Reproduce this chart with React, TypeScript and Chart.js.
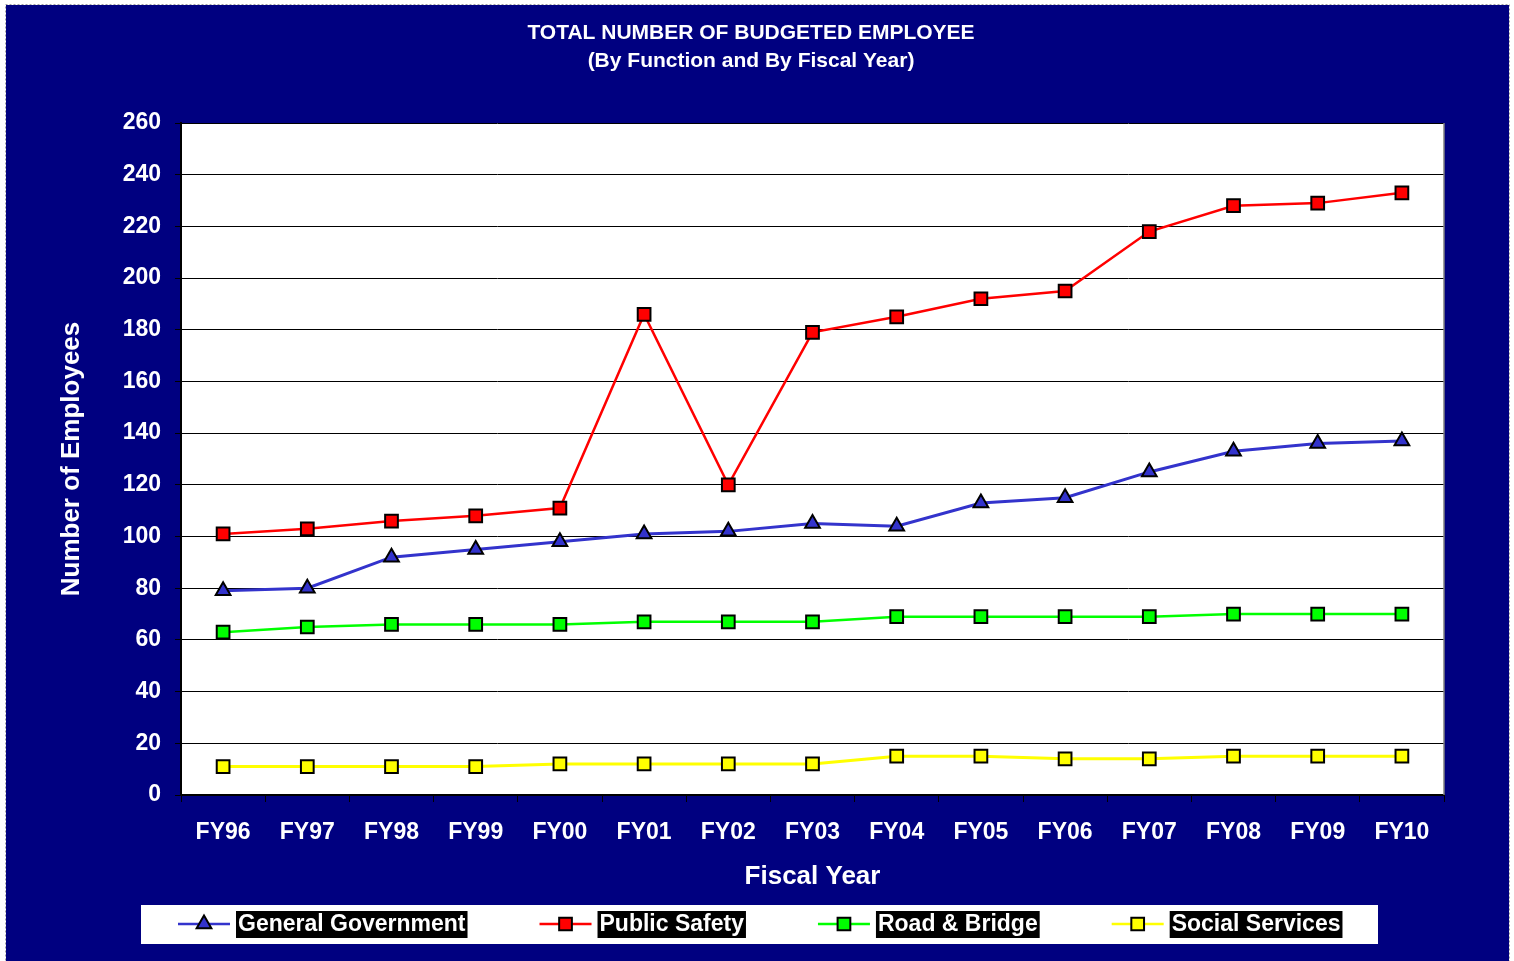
import React, { useEffect, useRef } from "react";
import { Chart, registerables } from "chart.js";

Chart.register(...registerables);

// Fiscal years on the horizontal axis
const fiscalYears = ["FY96", "FY97", "FY98", "FY99", "FY00", "FY01", "FY02", "FY03", "FY04", "FY05", "FY06", "FY07", "FY08", "FY09", "FY10"];

// Budgeted employees per function
const generalGovernment = [79, 80, 92, 95, 98, 101, 102, 105, 104, 113, 115, 125, 133, 136, 137];
const publicSafety = [101, 103, 106, 108, 111, 186, 120, 179, 185, 192, 195, 218, 228, 229, 233];
const roadAndBridge = [63, 65, 66, 66, 66, 67, 67, 67, 69, 69, 69, 69, 70, 70, 70];
const socialServices = [11, 11, 11, 11, 12, 12, 12, 12, 15, 15, 14, 14, 15, 15, 15];

const seriesNames = ["General Government", "Public Safety", "Road & Bridge", "Social Services"];
const titleLines = ["TOTAL NUMBER OF BUDGETED EMPLOYEE", "(By Function and By Fiscal Year)"];

const FONT = '"Liberation Sans", Arial, sans-serif';
const NAVY = "#000080";

function drawMarker(ctx: CanvasRenderingContext2D, style: string, x: number, y: number, r: number, fill: string) {
  ctx.save();
  ctx.beginPath();
  if (style === "triangle") {
    ctx.moveTo(x, y - r);
    ctx.lineTo(x + (r * Math.sqrt(3)) / 2, y + r / 2);
    ctx.lineTo(x - (r * Math.sqrt(3)) / 2, y + r / 2);
    ctx.closePath();
  } else {
    const s = Math.SQRT1_2 * r;
    ctx.rect(x - s, y - s, 2 * s, 2 * s);
  }
  ctx.fillStyle = fill;
  ctx.fill();
  ctx.lineWidth = 2;
  ctx.strokeStyle = "#000";
  ctx.stroke();
  ctx.restore();
}

const framePlugin = {
  id: "frame",
  beforeDraw(chart: any) {
    const { ctx, width, height, chartArea } = chart;
    ctx.save();
    ctx.fillStyle = "#fff";
    ctx.fillRect(0, 0, width, height);
    ctx.setLineDash([2, 2]);
    ctx.strokeStyle = "#a0a0a0";
    ctx.lineWidth = 1;
    ctx.strokeRect(5.5, 4.5, 1504, 960);
    ctx.setLineDash([]);
    ctx.fillStyle = NAVY;
    ctx.fillRect(6, 5, 1503, 956);
    ctx.fillStyle = "#fff";
    ctx.fillRect(chartArea.left, chartArea.top, chartArea.right - chartArea.left, chartArea.bottom - chartArea.top);

    // Title
    ctx.fillStyle = "#fff";
    ctx.textAlign = "center";
    ctx.textBaseline = "middle";
    ctx.font = `bold 21px ${FONT}`;
    ctx.fillText(titleLines[0], 751, 33);
    ctx.fillText(titleLines[1], 751, 61);
    ctx.restore();
  },
  beforeDatasetsDraw(chart: any) {
    const { ctx, chartArea } = chart;
    ctx.save();
    ctx.strokeStyle = "#808080";
    ctx.lineWidth = 1.5;
    ctx.beginPath();
    ctx.moveTo(chartArea.right, chartArea.top);
    ctx.lineTo(chartArea.right, chartArea.bottom);
    ctx.stroke();
    ctx.restore();
  },
  afterDraw(chart: any) {
    const { ctx } = chart;
    ctx.save();
    ctx.fillStyle = "#fff";
    ctx.fillRect(141, 905, 1237, 39);
    ctx.font = `bold 23px ${FONT}`;
    ctx.textBaseline = "middle";
    ctx.textAlign = "left";
    let x = 178;
    const cy = 924;
    chart.data.datasets.forEach((ds: any) => {
      ctx.strokeStyle = ds.borderColor;
      ctx.lineWidth = 2.5;
      ctx.beginPath();
      ctx.moveTo(x, cy);
      ctx.lineTo(x + 52, cy);
      ctx.stroke();
      drawMarker(ctx, ds.pointStyle, x + 26, cy, ds.pointRadius, ds.pointBackgroundColor);
      const tw = ctx.measureText(ds.label).width;
      const bx = x + 58;
      ctx.fillStyle = "#000";
      ctx.fillRect(bx, 911, tw + 4, 27);
      ctx.fillStyle = "#fff";
      ctx.fillText(ds.label, bx + 2, cy + 1);
      x = bx + tw + 4 + 72;
    });
    ctx.restore();
  },
};

export default function App() {
  const canvasRef = useRef<HTMLCanvasElement | null>(null);

  useEffect(() => {
    if (!canvasRef.current) return;
    const mk = (label: string, data: number[], color: string, style: string, radius: number, width: number) => ({
      label,
      data,
      borderColor: color,
      backgroundColor: color,
      borderWidth: width,
      pointStyle: style,
      pointRadius: radius,
      pointHoverRadius: radius,
      pointBackgroundColor: color,
      pointBorderColor: "#000",
      pointBorderWidth: 2,
      tension: 0,
      fill: false,
    });
    const chart = new Chart(canvasRef.current, {
      type: "line",
      data: {
        labels: fiscalYears,
        datasets: [
          mk(seriesNames[0], generalGovernment, "#3333CC", "triangle", 8.5, 3),
          mk(seriesNames[1], publicSafety, "#FF0000", "rect", 9, 2.5),
          mk(seriesNames[2], roadAndBridge, "#00FF00", "rect", 9, 2.5),
          mk(seriesNames[3], socialServices, "#FFFF00", "rect", 9, 3),
        ],
      },
      plugins: [framePlugin],
      options: {
        animation: false,
        responsive: false,
        devicePixelRatio: 1,
        layout: { padding: { left: 0, top: 123, right: 70, bottom: 66 } },
        plugins: {
          legend: { display: false },
          title: { display: false },
          tooltip: { enabled: false },
        },
        scales: {
          x: {
            type: "category",
            offset: true,
            afterFit: (scale: any) => {
              scale.height = 100;
            },
            grid: {
              offset: true,
              drawOnChartArea: false,
              drawTicks: true,
              tickLength: 7,
              color: "#000",
              tickColor: "#000",
              lineWidth: 1,
            },
            border: { display: true, color: "#000", width: 2 },
            ticks: {
              color: "#fff",
              font: { family: FONT, size: 23, weight: "bold" },
              padding: 17,
              maxRotation: 0,
              autoSkip: false,
            },
            title: {
              display: true,
              text: "Fiscal Year",
              color: "#fff",
              font: { family: FONT, size: 26, weight: "bold" },
              padding: { top: 0, bottom: 3 },
            },
          },
          y: {
            min: 0,
            max: 260,
            afterFit: (scale: any) => {
              scale.width = 181;
            },
            grid: {
              color: "#000",
              tickColor: "#000",
              lineWidth: 1,
              tickLength: 6,
              drawTicks: true,
            },
            border: { display: true, color: "#000", width: 2 },
            ticks: {
              stepSize: 20,
              color: "#fff",
              font: { family: FONT, size: 23, weight: "bold" },
              padding: 14,
            },
            title: {
              display: true,
              text: "Number of Employees",
              color: "#fff",
              font: { family: FONT, size: 26, weight: "bold" },
              padding: { top: 56, bottom: 0 },
            },
          },
        },
      },
    } as any);
    return () => chart.destroy();
  }, []);

  return (
    <div style={{ position: "absolute", left: 0, top: 0, width: 1514, height: 961 }}>
      <canvas ref={canvasRef} width={1514} height={961} style={{ display: "block", width: 1514, height: 961 }} />
    </div>
  );
}
